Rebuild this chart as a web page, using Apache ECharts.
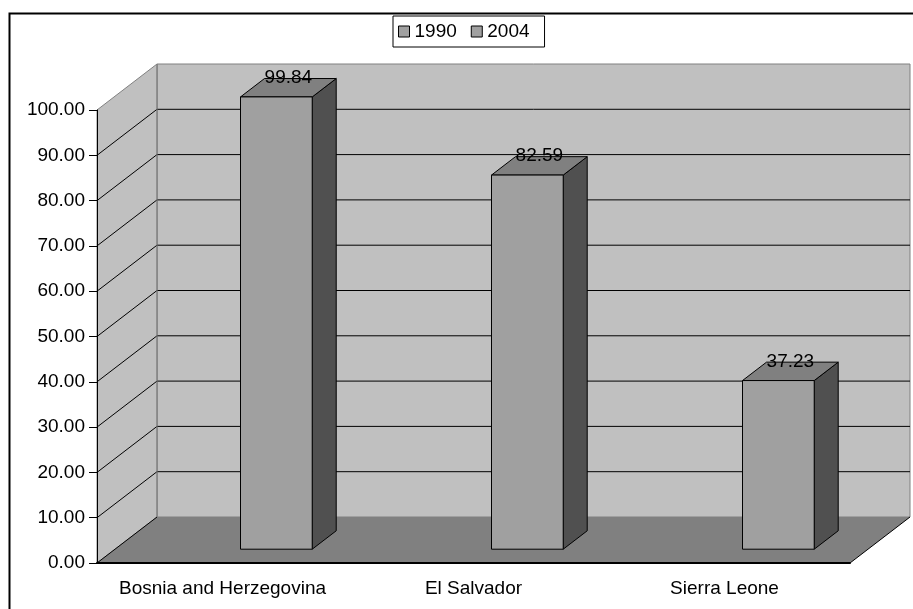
<!DOCTYPE html>
<html>
<head>
<meta charset="utf-8">
<script src="https://cdn.jsdelivr.net/npm/echarts@6/dist/echarts.min.js"></script>
<style>html,body{margin:0;padding:0;background:#fff}#c{width:913px;height:609px}</style>
</head>
<body>
<div id="c"></div>
<script>
const categories = ['Bosnia and Herzegovina', 'El Salvador', 'Sierra Leone'];
const seriesNames = ['1990', '2004'];
const values1990 = [null, null, null];
const values2004 = [99.84, 82.59, 37.23];
const yMin = 0, yMax = 100, yStep = 10;

const FONT = "'Liberation Sans', Arial, sans-serif";
const FS = 19;
const DX = 60, DY = -46;       // depth projection
const F = 0.3, B = 0.7;         // bar depth range
const WALL = '#C0C0C0', FLOOR = '#808080', EDGE = '#808080';
const FRONT = '#A0A0A0', TOP = '#808080', SIDE = '#505050';

const chart = echarts.init(document.getElementById('c'));

function sceneRender(params, api) {
  const cs = params.coordSys;
  const x0 = cs.x, x1 = cs.x + cs.width;
  const yOf = v => api.coord([0, v])[1];
  const y0 = yOf(yMin), yT = yOf(yMax);
  const ch = [];
  ch.push({type: 'polygon', shape: {points: [[x0 + DX, yT + DY], [x1 + DX, yT + DY], [x1 + DX, y0 + DY], [x0 + DX, y0 + DY]]},
    style: {fill: WALL, stroke: EDGE, lineWidth: 1}});
  ch.push({type: 'polygon', shape: {points: [[x0, yT], [x0 + DX, yT + DY], [x0 + DX, y0 + DY], [x0, y0]]},
    style: {fill: WALL, stroke: EDGE, lineWidth: 1}});
  for (let v = yMin + yStep; v < yMax; v += yStep) {
    const y = yOf(v);
    ch.push({type: 'line', shape: {x1: x0, y1: y, x2: x0 + DX, y2: y + DY}, style: {stroke: '#000', lineWidth: 1}});
    ch.push({type: 'line', shape: {x1: x0 + DX, y1: y + DY, x2: x1 + DX, y2: y + DY}, style: {stroke: '#000', lineWidth: 1}});
  }
  ch.push({type: 'polygon', shape: {points: [[x0, y0], [x1, y0], [x1 + DX, y0 + DY], [x0 + DX, y0 + DY]]},
    style: {fill: FLOOR}});
  ch.push({type: 'line', shape: {x1: x0, y1: y0, x2: x0 + DX, y2: y0 + DY}, style: {stroke: '#000', lineWidth: 1}});
  ch.push({type: 'line', shape: {x1: x1, y1: y0, x2: x1 + DX, y2: y0 + DY}, style: {stroke: '#000', lineWidth: 1}});
  ch.push({type: 'line', shape: {x1: x0 + DX, y1: yT + DY, x2: x0 + DX, y2: y0 + DY}, style: {stroke: EDGE, lineWidth: 1}});
  return {type: 'group', children: ch};
}

function makeBarRender(slot) {
  return function (params, api) {
    const v = api.value(1);
    if (v == null || isNaN(v)) return null;
    const i = api.value(0);
    const cw = api.size([1, 0])[0];
    const w = cw / 3.5;
    const c = api.coord([i, 0]);
    const xa = c[0] + (slot === 0 ? -w : 0), xb = xa + w;
    const yb = c[1], yt = api.coord([i, v])[1];
    const fx = F * DX, fy = F * DY, bx = B * DX, by = B * DY;
    const st = {stroke: '#000', lineWidth: 1};
    return {type: 'group', children: [
      {type: 'polygon', shape: {points: [[xb + fx, yt + fy], [xb + bx, yt + by], [xb + bx, yb + by], [xb + fx, yb + fy]]},
        style: Object.assign({fill: SIDE}, st)},
      {type: 'polygon', shape: {points: [[xa + fx, yt + fy], [xb + fx, yt + fy], [xb + bx, yt + by], [xa + bx, yt + by]]},
        style: Object.assign({fill: TOP}, st)},
      {type: 'rect', shape: {x: xa + fx, y: yt + fy, width: w, height: yb - yt},
        style: Object.assign({fill: FRONT}, st)},
      {type: 'text', x: (xa + xb) / 2 + 0.5 * DX, y: yt + 0.5 * DY - 10,
        style: {text: v.toFixed(2), fill: '#000', font: FS + 'px ' + FONT, align: 'center', verticalAlign: 'middle'}}
    ]};
  };
}

const option = {
  animation: false,
  textStyle: {fontFamily: FONT},
  grid: {left: 97, right: 63, top: 110, bottom: 46, containLabel: false},
  legend: {
    data: seriesNames,
    left: 393, top: 16,
    padding: [6, 15, 6, 5],
    borderColor: '#000', borderWidth: 1,
    icon: 'rect', itemWidth: 11, itemHeight: 11, itemGap: 14,
    itemStyle: {color: FRONT, borderColor: '#000', borderWidth: 1},
    textStyle: {fontSize: FS, color: '#000', fontFamily: FONT}
  },
  xAxis: {
    type: 'category', data: categories, z: 10,
    axisLine: {lineStyle: {color: '#000', width: 2}},
    axisTick: {length: 8, lineStyle: {color: '#000'}},
    axisLabel: {fontSize: FS, color: '#000', margin: 16, fontFamily: FONT, interval: 0, hideOverlap: false},
    splitLine: {show: false}
  },
  yAxis: {
    type: 'value', min: yMin, max: yMax, interval: yStep, z: 10,
    axisLine: {show: true, lineStyle: {color: '#000', width: 1}},
    axisTick: {show: true, length: 8, lineStyle: {color: '#000'}},
    axisLabel: {fontSize: FS, color: '#000', margin: 12, fontFamily: FONT, formatter: v => v.toFixed(2)},
    splitLine: {show: false}
  },
  graphic: [{type: 'rect', left: 7, top: 11, shape: {width: 930, height: 630}, style: {fill: 'none', stroke: '#000', lineWidth: 2}, z: 100}],
  series: [
    {type: 'custom', name: 'scene', silent: true, z: 1, data: [[0, 0]], renderItem: sceneRender, encode: {x: 0, y: 1}},
    {type: 'custom', name: '1990', z: 3, itemStyle: {color: FRONT, borderColor: '#000', borderWidth: 1},
      data: values1990.map((v, i) => [i, v]), encode: {x: 0, y: 1}, renderItem: makeBarRender(0)},
    {type: 'custom', name: '2004', z: 3, itemStyle: {color: FRONT, borderColor: '#000', borderWidth: 1},
      data: values2004.map((v, i) => [i, v]), encode: {x: 0, y: 1}, renderItem: makeBarRender(1)}
  ]
};
chart.setOption(option);
</script>
</body>
</html>
